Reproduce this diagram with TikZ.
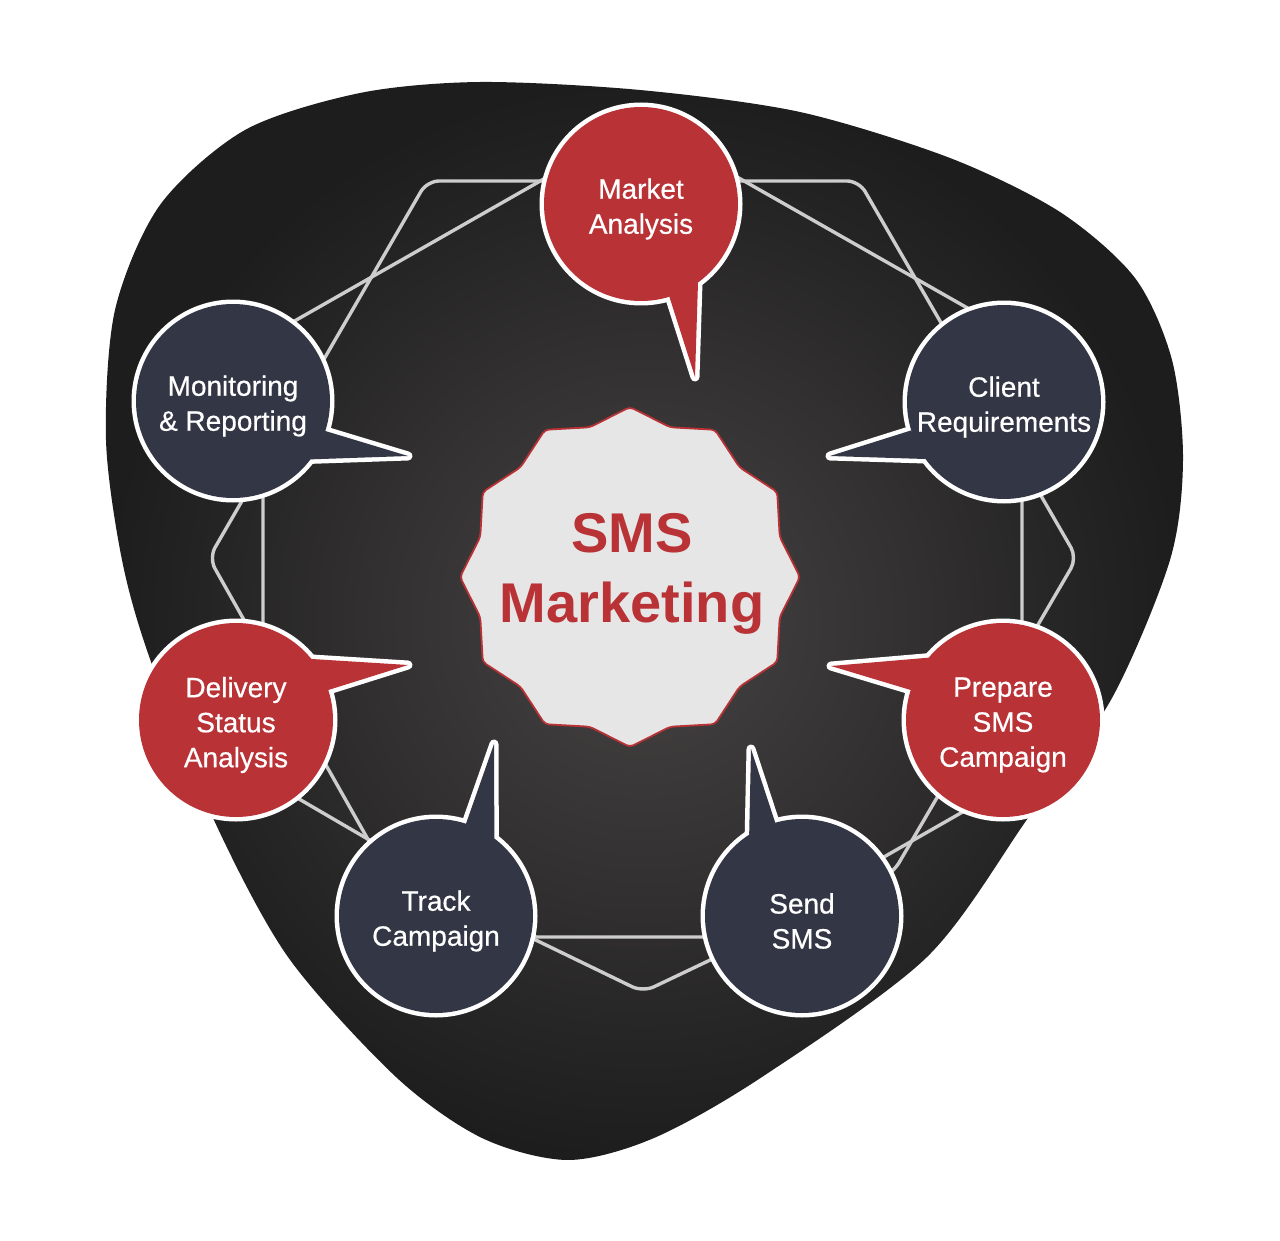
\documentclass[tikz,border=0pt]{standalone}
\usepackage{fontspec}
\setmainfont{Liberation Sans}
\newfontfamily\stagefont[FakeBold=0.5]{Liberation Sans}
\usetikzlibrary{backgrounds}
\definecolor{smsred}{HTML}{B83236}
\definecolor{smsnavy}{HTML}{333745}
\definecolor{smsline}{HTML}{CDCDCD}
\definecolor{smsbadge}{HTML}{E6E6E6}
\definecolor{blobin}{HTML}{474344}
\definecolor{blobout}{HTML}{1D1D1D}
% one speech bubble: node, colour, tail angle, tail tip, tail angle
% (text sits a little below the middle of the bubble)
\newcommand{\stage}[5]{%
  \path[rim] ([yshift=2.5pt]#1.center) circle[radius=48.5pt];
  \path[rim] ([yshift=2.5pt]#1.#3) -- (#4) -- ([yshift=2.5pt]#1.#5) -- cycle;
  \fill[#2] ([yshift=2.5pt]#1.center) circle[radius=48.5pt];
  \fill[#2] ([yshift=2.5pt]#1.#3) -- (#4) -- ([yshift=2.5pt]#1.#5) -- cycle;}

\begin{document}
\begin{tikzpicture}[x=0.5pt, y=-0.5pt,
  bubble/.style={circle, minimum size=97pt, inner sep=0pt, outer sep=0pt,
    text=white, align=center, font=\stagefont\fontsize{14}{17.5}\selectfont},
  rim/.style={draw=white, fill=white, line width=4.5pt, line join=round},
  link/.style={draw=smsline, line width=1.7pt}]
  \useasboundingbox (0,0) rectangle (1280,1241);

  % stages
  \node[bubble] (market)   at (641,209)  {Market\\Analysis};
  \node[bubble] (client)   at (1004,407) {Client\\Requirements};
  \node[bubble] (prepare)  at (1003,725) {Prepare\\SMS\\Campaign};
  \node[bubble] (send)     at (802,921)  {Send\\SMS};
  \node[bubble] (track)    at (436,921)  {Track\\Campaign};
  \node[bubble] (delivery) at (236,725)  {Delivery\\Status\\Analysis};
  \node[bubble] (monitor)  at (233,406)  {Monitoring\\\& Reporting};
  \node[text=smsred, align=center, font=\bfseries\fontsize{28}{35}\selectfont]
    (core) at (632,574) {SMS\\Marketing};

  \begin{scope}[on background layer]
    \fill[white] (0,0) rectangle (1280,1241);
    % backdrop
    \shade[inner color=blobin, outer color=blobout] plot[smooth cycle] coordinates {
      (480,82) (640,90) (800,112) (950,158) (1060,212) (1135,278) (1172,360)
      (1183,460) (1170,560) (1112,698) (1028,818) (927,957) (762,1077)
      (654,1138) (568,1160) (482,1138) (396,1077) (288,957) (213,818)
      (150,659) (122,560) (106,440) (115,310) (160,205) (245,130) (360,93)};
    % two frames
    \draw[link, rounded corners=6pt] (427,181) -- (859,181) -- (1077,558)
      -- (893,873) -- (643,992) -- (383,866) -- (209,558) -- cycle;
    \draw[link] (642,123) -- (263,339) -- (263,778) -- (536,937)
      -- (744,937) -- (1022,778) -- (1022,339) -- cycle;
    % badge
    \draw[fill=smsbadge, draw=smsred, line width=0.9pt, rounded corners=2pt,
      shift={(630,577)}] (90:170)
      \foreach \a in {0,...,10}{ -- ({105+30*\a}:155) -- ({120+30*\a}:170)}
      -- (75:155) -- cycle;
    % bubbles
    \stage{market}{smsred}{287}{695,377}{306}
    \stage{client}{smsnavy}{197}{830,456}{216}
    \stage{prepare}{smsred}{140}{831,666}{162}
    \stage{send}{smsnavy}{123}{751,749}{106}
    \stage{track}{smsnavy}{72}{494,744}{53}
    \stage{delivery}{smsred}{39}{408,665}{18}
    \stage{monitor}{smsnavy}{342}{408,456}{323}
  \end{scope}
\end{tikzpicture}
\end{document}
